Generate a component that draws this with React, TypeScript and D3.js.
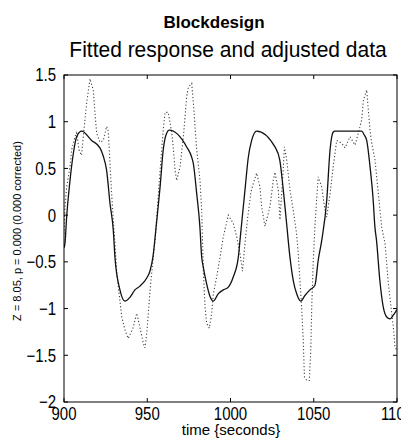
import React from "react";
import * as d3 from "d3";

// Adjusted data (dotted) — time in seconds, value
const dataTime = [
  900.0, 900.6, 901.6, 903.6, 904.6, 906.6, 907.6, 909.0, 910.5, 912.6, 913.6, 915.6, 917.6, 918.6, 919.6,
  921.6, 923.6, 925.6, 926.6, 927.6, 928.6, 929.6, 930.6, 931.7, 934.7, 936.6, 938.6, 941.6, 943.7, 945.6,
  947.6, 948.6, 949.7, 951.7, 953.6, 954.7, 956.6, 957.7, 959.6, 960.7, 962.6, 964.7, 965.6, 966.7, 967.7,
  969.7, 971.7, 973.7, 974.7, 976.7, 977.7, 978.7, 979.7, 981.7, 982.7, 983.7, 984.7, 985.7, 987.3, 988.7,
  989.7, 991.7, 993.7, 995.7, 998.7, 1001.7, 1003.7, 1005.7, 1007.2, 1008.7, 1010.5, 1012.3, 1013.7, 1015.7,
  1017.7, 1018.7, 1020.7, 1023.7, 1025.7, 1026.7, 1028.7, 1029.7, 1031.7, 1032.4, 1033.7, 1035.7, 1037.7,
  1039.7, 1040.7, 1041.7, 1042.7, 1043.7, 1044.4, 1045.8, 1047.3, 1048.2, 1048.8, 1049.7, 1050.7, 1051.7,
  1052.7, 1054.8, 1056.8, 1057.8, 1059.8, 1061.7, 1063.8, 1066.8, 1068.8, 1071.8, 1074.8, 1076.8, 1078.8,
  1079.8, 1081.8, 1082.8, 1083.8, 1084.8, 1086.8, 1088.8, 1090.8, 1092.8, 1093.8, 1094.8, 1097.8, 1098.8, 1100.0,
];
const dataValue = [
  -0.2, 0.09, 0.3, 0.52, 0.7, 0.84, 0.88, 0.7, 0.64, 1.02, 1.2, 1.46, 1.34, 1.09, 0.88,
  0.78, 0.8, 0.95, 0.9, 0.56, 0.23, -0.05, -0.3, -0.62, -1.09, -1.23, -1.32, -1.2, -1.05, -1.2,
  -1.37, -1.42, -1.27, -0.8, -0.45, -0.27, 0.2, 0.48, 0.91, 1.1, 1.1, 0.88, 0.73, 0.48, 0.37,
  0.52, 0.84, 1.27, 1.37, 1.41, 1.2, 0.95, 0.7, 0.37, 0.05, -0.6, -0.98, -1.16, -1.21, -1.05,
  -0.84, -0.66, -0.45, -0.23, 0.0, -0.09, -0.23, -0.41, -0.6, -0.3, 0.0, 0.25, 0.34, 0.45,
  0.3, 0.09, -0.12, 0.09, 0.37, 0.46, 0.27, -0.05, 0.5, 0.73, 0.6, 0.27, 0.05,
  -0.2, -0.41, -0.7, -0.98, -1.34, -1.73, -1.77, -1.77, -1.45, -0.98, -0.5, -0.12, 0.16,
  0.41, 0.3, 0.05, -0.02, 0.23, 0.52, 0.8, 0.77, 0.72, 0.84, 0.75, 0.88, 1.02,
  1.23, 1.34, 1.12, 0.91, 0.77, 0.59, 0.23, -0.13, -0.3, -0.52, -0.73, -1.2, -1.41, -1.45,
];

// Fitted response (solid)
const fitTime = [
  900.0, 900.6, 901.6, 903.6, 905.6, 907.6, 910.6, 916.6, 921.6, 923.6, 925.6, 927.6, 929.6, 930.6, 933.6,
  936.6, 939.6, 942.6, 945.6, 949.8, 951.6, 953.4, 955.2, 956.6, 957.7, 959.6, 961.7, 963.2, 973.7, 976.7,
  977.7, 979.7, 981.6, 982.7, 983.6, 985.6, 987.7, 989.7, 992.7, 995.7, 998.7, 1001.7, 1004.7, 1005.7,
  1008.7, 1010.7, 1012.7, 1015.7, 1026.7, 1029.6, 1031.7, 1033.7, 1035.7, 1037.7, 1039.9, 1042.2, 1044.7,
  1047.7, 1050.7, 1052.7, 1054.8, 1057.8, 1059.8, 1061.7, 1062.7, 1078.8, 1080.3, 1081.8, 1083.8, 1085.7,
  1086.7, 1087.7, 1089.7, 1091.7, 1093.8, 1095.8, 1097.8, 1100.0,
];
const fitValue = [
  -0.35, -0.3, -0.02, 0.37, 0.66, 0.84, 0.9, 0.8, 0.72, 0.63, 0.48, 0.13, -0.16, -0.45, -0.8,
  -0.92, -0.88, -0.8, -0.76, -0.67, -0.6, -0.45, -0.15, 0.1, 0.3, 0.7, 0.88, 0.91, 0.73, 0.62,
  0.55, 0.23, -0.12, -0.45, -0.55, -0.73, -0.87, -0.92, -0.84, -0.8, -0.77, -0.66, -0.45, -0.27,
  0.27, 0.62, 0.8, 0.9, 0.73, 0.59, 0.27, -0.09, -0.45, -0.7, -0.85, -0.92, -0.86,
  -0.8, -0.75, -0.48, -0.27, 0.16, 0.7, 0.89, 0.9, 0.9, 0.86, 0.8, 0.52, 0.16,
  -0.12, -0.27, -0.7, -0.98, -1.09, -1.11, -1.07, -1.01,
];

const xTicks = [900, 950, 1000, 1050, 1100];
const yTicks = [-2, -1.5, -1, -0.5, 0, 0.5, 1, 1.5];

const title1 = "Blockdesign";
const title2 = "Fitted response and adjusted data";
const xLabel = "time {seconds}";
const yLabel = "Z = 8.05, p = 0.000 (0.000 corrected)";

const W = 401;
const H = 439;
const L = 64, R = 397, T = 75, B = 402;

export default function App() {
  const x = d3.scaleLinear().domain([900, 1100]).range([L, R]);
  const y = d3.scaleLinear().domain([-2, 1.5]).range([B, T]);
  const dotted = d3
    .line<[number, number]>()
    .x((d) => x(d[0]))
    .y((d) => y(d[1]));
  const solid = d3
    .line<[number, number]>()
    .x((d) => x(d[0]))
    .y((d) => y(d[1]))
    .curve(d3.curveMonotoneX);
  const dataPts: [number, number][] = dataTime.map((t, i) => [t, dataValue[i]]);
  const fitPts: [number, number][] = fitTime.map((t, i) => [t, fitValue[i]]);
  const font = "Liberation Sans, Arial, Helvetica, sans-serif";
  const fmt = (v: number) => (v < 0 ? "\u2212" + String(-v) : String(v));
  const tl = 4;
  return (
    <svg
      width={W}
      height={H}
      style={{ position: "absolute", left: 0, top: 0, background: "#fff" }}
      fontFamily={font}
    >
      <rect x={0} y={0} width={W} height={H} fill="#fff" />
      <text x={214} y={28} textAnchor="middle" fontSize={17} fontWeight="bold" fill="#000">
        {title1}
      </text>
      <text
        transform="translate(228,57) scale(1,1.08)"
        textAnchor="middle"
        fontSize={21}
        fill="#000"
      >
        {title2}
      </text>
      <defs>
        <clipPath id="plotclip">
          <rect x={L} y={T} width={R - L} height={B - T} />
        </clipPath>
      </defs>
      <g clipPath="url(#plotclip)">
        <path
          d={dotted(dataPts) || ""}
          fill="none"
          stroke="#444"
          strokeWidth={1.1}
          strokeDasharray="1.2,2.2"
        />
        <path d={solid(fitPts) || ""} fill="none" stroke="#111" strokeWidth={1.3} />
      </g>
      <rect x={L} y={T} width={R - L} height={B - T} fill="none" stroke="#000" strokeWidth={1} />
      {xTicks.map((t) => (
        <g key={"x" + t}>
          <line x1={x(t)} x2={x(t)} y1={B} y2={B - tl} stroke="#000" />
          <line x1={x(t)} x2={x(t)} y1={T} y2={T + tl} stroke="#000" />
          <text
            transform={`translate(${x(t)},420) scale(1,1.2)`}
            textAnchor="middle"
            fontSize={15}
            fill="#000"
          >
            {t}
          </text>
        </g>
      ))}
      {yTicks.map((v) => (
        <g key={"y" + v}>
          <line x1={L} x2={L + tl} y1={y(v)} y2={y(v)} stroke="#000" />
          <line x1={R} x2={R - tl} y1={y(v)} y2={y(v)} stroke="#000" />
          <text
            transform={`translate(56,${y(v)}) scale(1,1.2)`}
            dy="0.36em"
            textAnchor="end"
            fontSize={15}
            fill="#000"
          >
            {fmt(v)}
          </text>
        </g>
      ))}
      <text x={231} y={435} textAnchor="middle" fontSize={15} fill="#000">
        {xLabel}
      </text>
      <text
        transform={`translate(21,${231}) rotate(-90)`}
        textAnchor="middle"
        fontSize={11}
        fill="#000"
      >
        {yLabel}
      </text>
    </svg>
  );
}
